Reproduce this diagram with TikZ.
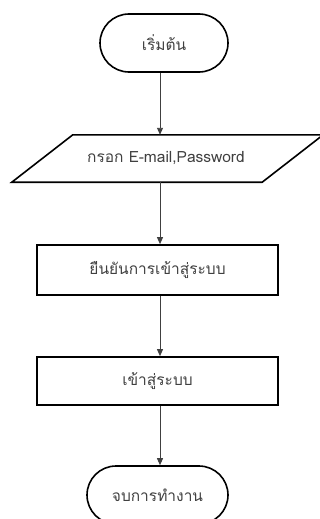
\documentclass[tikz,border=0pt]{standalone}
\usepackage{fontspec}
\newfontfamily\thaifont[Script=Thai]{Loma}
\usetikzlibrary{shapes.misc,arrows.meta,calc}
\begin{document}
\begin{tikzpicture}[x=1pt,y=1pt,
  every node/.style={font=\thaifont\fontsize{15.5}{18}\selectfont, text=black!75},
  term/.style={rounded rectangle, draw, line width=1.6pt, inner sep=0pt},
  proc/.style={rectangle, draw, line width=1.7pt, inner sep=0pt},
  flow/.style={draw=black!75, line width=0.9pt, -{Triangle[length=7pt,width=6pt]}}]
  \useasboundingbox (0,0) rectangle (320,-519);
  \coordinate (axis) at (160,0);

  \node[term, minimum width=128, minimum height=58] (start) at (164,-43) {เริ่มต้น};

  % input step: parallelogram drawn around an invisible node
  \node[minimum width=311, minimum height=47, inner sep=0pt] (inp) at (167.5,-158.5) {};
  \draw[line width=1.6pt, line join=miter]
    (inp.south west) -- ($(inp.north west)+(61,0)$) -- (inp.north east)
    -- ($(inp.south east)-(61,0)$) -- cycle;
  \node at (166,-158.5) {กรอก E-mail,Password};

  \node[proc, minimum width=241, minimum height=50] (verify) at (157.5,-270) {ยืนยันการเข้าสู่ระบบ};
  \node[proc, minimum width=241, minimum height=48] (login) at (157.5,-381) {เข้าสู่ระบบ};
  \node[term, minimum width=141, minimum height=58] (stop) at (157.5,-495) {จบการทำงาน};

  \draw[flow] (start.south -| axis) -- (inp.north -| axis);
  \draw[flow] (inp.south -| axis) -- (verify.north -| axis);
  \draw[flow] (verify.south -| axis) -- (login.north -| axis);
  \draw[flow] (login.south -| axis) -- (stop.north -| axis);
\end{tikzpicture}
\end{document}
